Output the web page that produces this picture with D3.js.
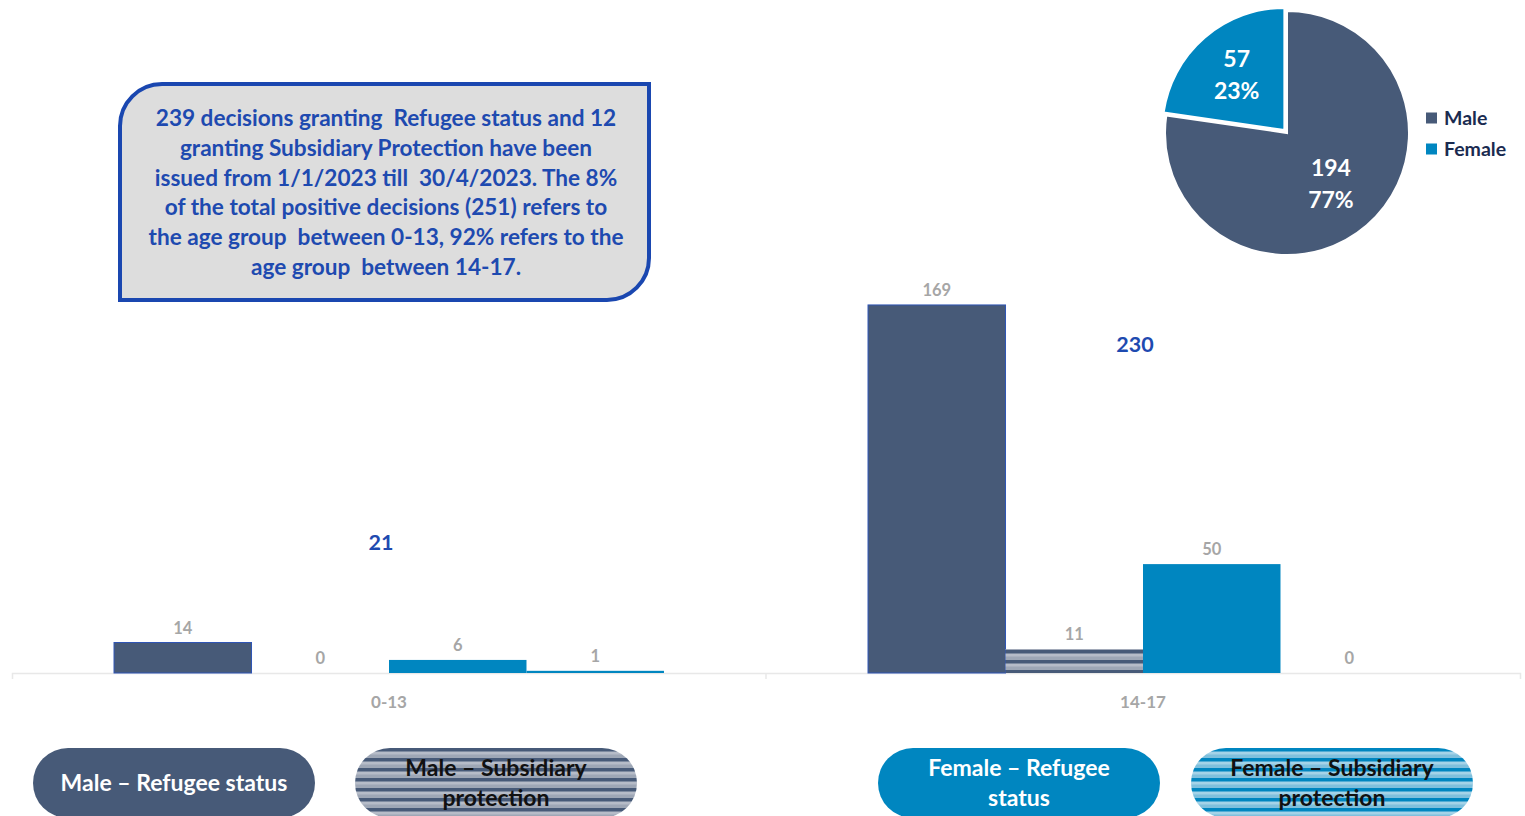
<!DOCTYPE html>
<html>
<head>
<meta charset="utf-8">
<script src="https://cdn.jsdelivr.net/npm/d3@7"></script>
<style>
  body { margin: 0; background: #fff; }
  svg { display: block; font-family: Lato, "Open Sans", sans-serif; }
</style>
</head>
<body>
<div id="chart"></div>
<script>
// data
const ageGroups = ["0-13", "14-17"];
const seriesNames = ["Male – Refugee status", "Male – Subsidiary protection", "Female – Refugee status", "Female – Subsidiary protection"];
const maleRefugee = [14, 169];
const maleSubsidiary = [0, 11];
const femaleRefugee = [6, 50];
const femaleSubsidiary = [1, 0];
const groupTotals = [21, 230];
const pieLabels = ["Male", "Female"];
const pieValues = [194, 57];
const noteLines = [
  "239 decisions granting  Refugee status and 12",
  "granting Subsidiary Protection have been",
  "issued from 1/1/2023 till  30/4/2023. The 8%",
  "of the total positive decisions (251) refers to",
  "the age group  between 0-13, 92% refers to the",
  "age group  between 14-17."
];

const width = 1525, height = 816;
const navy = "#475a78", blue = "#0086c0", darkBlue = "#1e4ab0", grey = "#a6a6a6";

const svg = d3.select("#chart").append("svg")
  .attr("width", width).attr("height", height);

//#region Patterns for subsidiary series
const defs = svg.append("defs");
function stripes(id, light, mid, dark) {
  const p = defs.append("pattern").attr("id", id)
    .attr("patternUnits", "userSpaceOnUse").attr("width", 10).attr("height", 10);
  p.append("rect").attr("width", 10).attr("height", 10).attr("fill", light);
  p.append("rect").attr("y", 0).attr("width", 10).attr("height", 3.5).attr("fill", dark);
  p.append("rect").attr("y", 6.5).attr("width", 10).attr("height", 3.5).attr("fill", mid);
}
stripes("maleStripes", "#b6bcc8", "#9ea7b6", navy);
stripes("femaleStripes", "#a4d3e8", "#7fc0dd", blue);
const fills = [navy, "url(#maleStripes)", blue, "url(#femaleStripes)"];
const textFills = ["#fff", "#111", "#fff", "#111"];
//#endregion

//#region Scales
const baseline = 673;
const x0 = d3.scaleBand().domain(ageGroups).range([12, 1520]);
const x1 = d3.scaleBand().domain(d3.range(4)).range([0, x0.bandwidth()]).paddingOuter(0.742);
const y = d3.scaleLinear().domain([0, 180]).range([baseline, 281]);
// totals sit on their own (hidden) secondary scale
const yTotal = d3.scaleLinear().domain([0, 250]).range([562, 326]);
//#endregion

//#region Axis
const axis = d3.axisBottom(x0).tickSizeInner(0).tickSizeOuter(6).tickPadding(23);
const gAxis = svg.append("g").attr("transform", `translate(0,${baseline})`).call(axis);
gAxis.select(".domain").attr("stroke", "#e8e8e8").attr("stroke-width", 1.5);
gAxis.selectAll(".tick text")
  .attr("fill", grey).style("font-size", "17px").style("font-weight", 700)
  .style("font-family", "Lato, sans-serif");
gAxis.append("line")
  .attr("x1", x0("14-17")).attr("x2", x0("14-17")).attr("y1", 0).attr("y2", 6)
  .attr("stroke", "#e8e8e8").attr("stroke-width", 1.5);
//#endregion

//#region Bars
const rows = ageGroups.map((g, i) => ({
  group: g,
  values: [maleRefugee[i], maleSubsidiary[i], femaleRefugee[i], femaleSubsidiary[i]]
}));
const groups = svg.selectAll("g.group").data(rows).enter().append("g")
  .attr("class", "group").attr("transform", d => `translate(${x0(d.group)},0)`);

groups.selectAll("rect").data(d => d.values).enter().append("rect")
  .attr("x", (d, i) => x1(i)).attr("width", x1.bandwidth())
  .attr("y", d => y(d)).attr("height", d => baseline - y(d))
  .attr("fill", (d, i) => fills[i])
  .attr("stroke", (d, i) => i === 0 ? "#2f55b5" : "none").attr("stroke-width", 1);

groups.selectAll("text.val").data(d => d.values).enter().append("text")
  .attr("class", "val")
  .attr("x", (d, i) => x1(i) + x1.bandwidth() / 2)
  .attr("y", d => y(d) - 9)
  .attr("text-anchor", "middle").attr("fill", grey)
  .style("font-size", "16.5px").style("font-weight", 700)
  .text(d => d);

svg.selectAll("text.total").data(groupTotals).enter().append("text")
  .attr("class", "total")
  .attr("x", (d, i) => x0(ageGroups[i]) + x0.bandwidth() / 2 - 8)
  .attr("y", d => yTotal(d)).attr("dy", "0.35em")
  .attr("text-anchor", "middle").attr("fill", darkBlue)
  .style("font-size", "21.5px").style("font-weight", 700)
  .text(d => d);
//#endregion

//#region Note box
const bx = 120, by = 84, bw = 529, bh = 216, r = 42;
svg.append("path")
  .attr("d", `M${bx},${by + r} A${r},${r} 0 0 1 ${bx + r},${by} H${bx + bw} V${by + bh - r}
    A${r},${r} 0 0 1 ${bx + bw - r},${by + bh} H${bx} Z`)
  .attr("fill", "#dddddd").attr("stroke", "#1a47b0").attr("stroke-width", 4);
svg.append("text")
  .attr("x", 386).attr("y", 118).attr("text-anchor", "middle")
  .attr("fill", darkBlue).style("font-size", "22.6px").style("font-weight", 700)
  .selectAll("tspan").data(noteLines).enter().append("tspan")
  .attr("x", 386).attr("dy", (d, i) => i === 0 ? "0.35em" : 29.8)
  .style("white-space", "pre").attr("xml:space", "preserve")
  .text(d => d);
//#endregion

//#region Pie
const cx = 1287, cy = 133, radius = 122;
const pie = d3.pie().sort(null)(pieValues);
const arc = d3.arc().innerRadius(0).outerRadius(radius);
const gPie = svg.append("g").attr("transform", `translate(${cx},${cy})`);
const explode = [0, 4];
gPie.selectAll("path").data(pie).enter().append("path")
  .attr("transform", (d, i) => {
    const a = (d.startAngle + d.endAngle) / 2;
    return `translate(${Math.sin(a) * explode[i]},${-Math.cos(a) * explode[i]})`;
  })
  .attr("d", arc).attr("fill", (d, i) => [navy, blue][i])
  .attr("stroke", "#fff").attr("stroke-width", 2);
const labelRadius = [0.55, 0.63];
const total = d3.sum(pieValues);
const pl = gPie.selectAll("text.pl").data(pie).enter().append("text")
  .attr("class", "pl")
  .attr("transform", (d, i) => {
    const a = (d.startAngle + d.endAngle) / 2, rr = radius * labelRadius[i];
    return `translate(${Math.sin(a) * rr},${-Math.cos(a) * rr - 4})`;
  })
  .attr("text-anchor", "middle").attr("fill", "#fff")
  .style("font-size", "23px").style("font-weight", 700);
pl.append("tspan").attr("x", 0).attr("dy", "-0.15em").text(d => d.value);
pl.append("tspan").attr("x", 0).attr("dy", 32).text(d => Math.round(d.value / total * 100) + "%");

const legend = svg.append("g").attr("transform", "translate(1426,118)");
pieLabels.forEach((name, i) => {
  legend.append("rect").attr("x", 0).attr("y", i * 31 - 5.5).attr("width", 11).attr("height", 11)
    .attr("fill", [navy, blue][i]);
  legend.append("text").attr("x", 18).attr("y", i * 31).attr("dy", "0.35em")
    .attr("fill", "#1a2b50").style("font-size", "19.5px").style("font-weight", 700)
    .text(name);
});
//#endregion

//#region Series legend pills
const pillX = [33, 355, 878, 1191];
const pillLines = [["Male – Refugee status"], ["Male – Subsidiary", "protection"], ["Female – Refugee", "status"], ["Female – Subsidiary", "protection"]];
const pills = svg.selectAll("g.pill").data(seriesNames).enter().append("g")
  .attr("class", "pill").attr("transform", (d, i) => `translate(${pillX[i]},748)`);
pills.append("rect").attr("width", 282).attr("height", 70).attr("rx", 35)
  .attr("fill", (d, i) => fills[i]);
pills.append("text").attr("text-anchor", "middle").attr("fill", (d, i) => textFills[i])
  .style("font-size", "23px").style("font-weight", 700)
  .each(function (d, i) {
    const lines = pillLines[i];
    const t = d3.select(this);
    lines.forEach((l, j) => {
      t.append("tspan").attr("x", 141)
        .attr("y", lines.length === 1 ? 35 : 20 + j * 30)
        .attr("dy", "0.35em").text(l);
    });
  });
//#endregion
</script>
</body>
</html>
